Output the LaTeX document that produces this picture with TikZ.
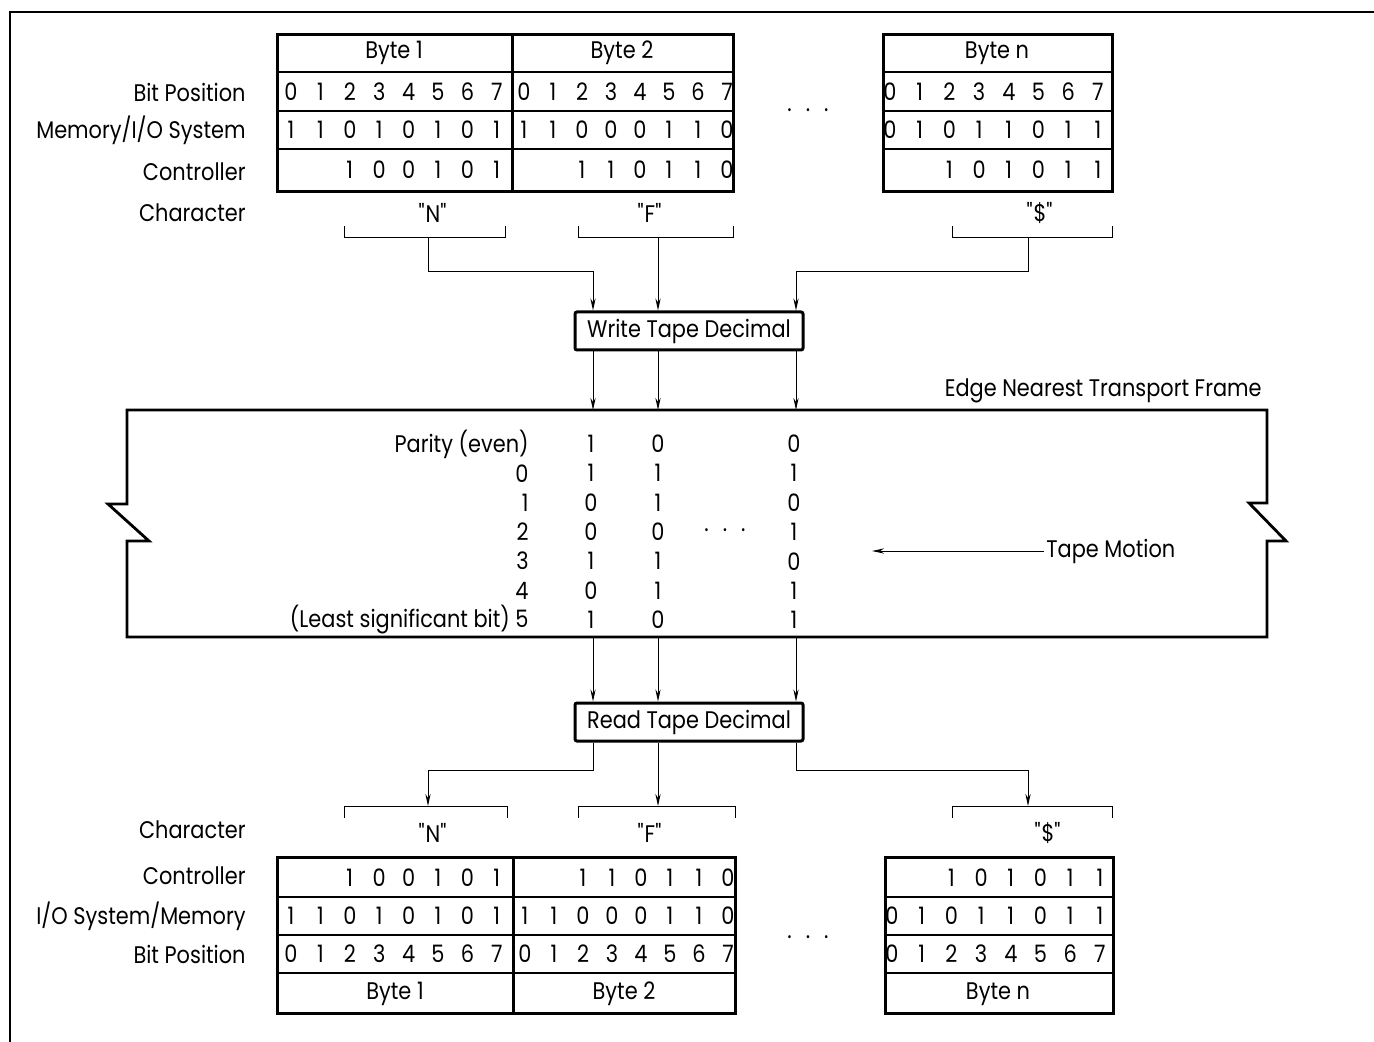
\documentclass[tikz,border=0pt]{standalone}
\usepackage{fontspec}
\setmainfont[FakeStretch=0.87]{Poppins}
\usetikzlibrary{arrows.meta}

\tikzset{
  conn/.style={line width=0.5pt},
  rowline/.style={line width=0.6pt},
  tabline/.style={line width=1.5pt},
  tapeline/.style={line width=1.4pt, line join=miter},
  procbox/.style={draw, line width=1.5pt, rounded corners=1pt, minimum width=114pt, minimum height=19pt, inner sep=0pt},
}
\newcommand{\chr}[1]{\textquotedbl#1\textquotedbl}

\begin{document}
\begin{tikzpicture}[x=0.5pt, y=-0.5pt, >={Stealth[length=6pt,width=2.6pt]},
  every node/.style={font=\fontsize{12}{14}\selectfont, inner sep=1pt}]
\useasboundingbox (0,0) rectangle (1374,1042);

% frame
\draw[line width=1pt] (10,1042) -- (10,12) -- (1374,12);

% columns used by the tape
\coordinate (c1) at (593,0);
\coordinate (c2) at (658,0);
\coordinate (c3) at (796,0);

% ---------- upper bytes ----------
\draw[rowline] (277,72) -- (733,72) (277,111) -- (733,111) (277,149) -- (733,149);
\draw[rowline] (883,72) -- (1112,72) (883,111) -- (1112,111) (883,149) -- (1112,149);
\draw[tabline] (277,35) rectangle (733,192) (512,35) -- (512,192);
\draw[tabline] (883,35) rectangle (1112,192);

\node[anchor=east] (ubitlbl) at (248,92) {Bit Position};
\node[anchor=east] (umemlbl) at (248,130) {Memory/I/O System};
\node[anchor=east] (uctllbl) at (248,172) {Controller};
\node[anchor=east] (uchrlbl) at (248,213) {Character};

\node (ub1) at (394,53) {Byte 1};
\node (ub2) at (622,53) {Byte 2};
\node (ubn) at (997,53) {Byte n};

\foreach \i in {0,...,7} {
  \node (ubit1-\i) at (291+29.4*\i,92) {\i};
  \node (ubit2-\i) at (524+29*\i,92) {\i};
  \node (ubitn-\i) at (890+29.7*\i,92) {\i};
}
\foreach \v [count=\i from 0] in {1,1,0,1,0,1,0,1}
  \node (umem1-\i) at (291+29.4*\i,130) {\v};
\foreach \v [count=\i from 0] in {1,1,0,0,0,1,1,0}
  \node (umem2-\i) at (524+29*\i,130) {\v};
\foreach \v [count=\i from 0] in {0,1,0,1,1,0,1,1}
  \node (umemn-\i) at (890+29.7*\i,130) {\v};
\foreach \v [count=\i from 2] in {1,0,0,1,0,1}
  \node (uctl1-\i) at (291+29.4*\i,170) {\v};
\foreach \v [count=\i from 2] in {1,1,0,1,1,0}
  \node (uctl2-\i) at (524+29*\i,170) {\v};
\foreach \v [count=\i from 2] in {1,0,1,0,1,1}
  \node (uctln-\i) at (890+29.7*\i,170) {\v};

\node (udots) at (808,110) {.\hspace{7pt}.\hspace{7pt}.};

\node (uchrN) at (433,213) {\chr{N}};
\node (uchrF) at (650,213) {\chr{F}};
\node (uchrS) at (1040,213) {\chr{\$}};

% brackets
\draw[conn] (344,226) -- (344,238) -- (505,238) -- (505,226);
\draw[conn] (578,226) -- (578,238) -- (733,238) -- (733,226);
\draw[conn] (952,226) -- (952,238) -- (1112,238) -- (1112,226);
\coordinate (uN) at (428,238);
\coordinate (uF) at (658,238);
\coordinate (uS) at (1028,238);

% write
\node[procbox] (write) at (689,331) {Write Tape Decimal};
\draw[conn,->] (uN) -- (428,272) -| (write.north -| c1);
\draw[conn,->] (uF) -- (write.north -| c2);
\draw[conn,->] (uS) -- (1028,272) -| (write.north -| c3);

% ---------- tape ----------
\coordinate (tapeT) at (0,410);
\coordinate (tapeB) at (0,637);
\draw[tapeline] (127,410) -- (1267,410) -- (1267,503) -- (1249,503) -- (1286,541)
  -- (1267,541) -- (1267,637) -- (127,637) -- (127,541) -- (149,541) -- (108,504)
  -- (127,504) -- cycle;
\node[anchor=east] (edge) at (1264,391) {Edge Nearest Transport Frame};

\foreach \c in {c1,c2,c3}
  \draw[conn,->] (write.south -| \c) -- (tapeT -| \c);

\foreach \t [count=\r from 0] in {{Parity (even)},0,1,2,3,4,{(Least significant bit) 5}}
  \node[anchor=east] (trow-\r) at (531,444+29.3*\r) {\t};
\foreach \v [count=\r from 0] in {1,1,0,0,1,0,1}
  \node (tN-\r) at (591,444+29.3*\r) {\v};
\foreach \v [count=\r from 0] in {0,1,1,0,1,1,0}
  \node (tF-\r) at (658,444+29.3*\r) {\v};
\foreach \v [count=\r from 0] in {0,1,0,1,0,1,1}
  \node (tS-\r) at (794,444+29.3*\r) {\v};
\node (tdots) at (725,530) {.\hspace{7pt}.\hspace{7pt}.};

\coordinate (motEnd) at (872,551);
\node[anchor=west] (motion) at (1044,551) {Tape Motion};
\draw[conn,->] (motion.west) -- (motEnd);

% read
\node[procbox] (read) at (689,722) {Read Tape Decimal};
\foreach \c in {c1,c2,c3}
  \draw[conn,->] (tapeB -| \c) -- (read.north -| \c);

\coordinate (lN) at (428,806);
\coordinate (lF) at (658,806);
\coordinate (lS) at (1028,806);
\draw[conn,->] (read.south -| c1) -- (593,770) -| (lN);
\draw[conn,->] (read.south -| c2) -- (lF);
\draw[conn,->] (read.south -| c3) -- (796,770) -| (lS);

\draw[conn] (344,818) -- (344,806) -- (507,806) -- (507,818);
\draw[conn] (578,818) -- (578,806) -- (735,806) -- (735,818);
\draw[conn] (952,818) -- (952,806) -- (1112,806) -- (1112,818);

% ---------- lower bytes ----------
\node[anchor=east] (lchrlbl) at (248,830) {Character};
\node[anchor=east] (lctllbl) at (248,876) {Controller};
\node[anchor=east] (lmemlbl) at (248,916) {I/O System/Memory};
\node[anchor=east] (lbitlbl) at (248,954) {Bit Position};

\node (lchrN) at (433,833) {\chr{N}};
\node (lchrF) at (650,833) {\chr{F}};
\node (lchrS) at (1048,833) {\chr{\$}};

\draw[rowline] (277,897) -- (735,897) (277,935) -- (735,935) (277,973) -- (735,973);
\draw[rowline] (885,897) -- (1113,897) (885,935) -- (1113,935) (885,973) -- (1113,973);
\draw[tabline] (277,857) rectangle (735,1013) (513,857) -- (513,1013);
\draw[tabline] (885,857) rectangle (1113,1013);

\foreach \v [count=\i from 2] in {1,0,0,1,0,1}
  \node (lctl1-\i) at (291+29.4*\i,878) {\v};
\foreach \v [count=\i from 2] in {1,1,0,1,1,0}
  \node (lctl2-\i) at (525+29*\i,878) {\v};
\foreach \v [count=\i from 2] in {1,0,1,0,1,1}
  \node (lctln-\i) at (892+29.7*\i,878) {\v};
\foreach \v [count=\i from 0] in {1,1,0,1,0,1,0,1}
  \node (lmem1-\i) at (291+29.4*\i,916) {\v};
\foreach \v [count=\i from 0] in {1,1,0,0,0,1,1,0}
  \node (lmem2-\i) at (525+29*\i,916) {\v};
\foreach \v [count=\i from 0] in {0,1,0,1,1,0,1,1}
  \node (lmemn-\i) at (892+29.7*\i,916) {\v};
\foreach \i in {0,...,7} {
  \node (lbit1-\i) at (291+29.4*\i,954) {\i};
  \node (lbit2-\i) at (525+29*\i,954) {\i};
  \node (lbitn-\i) at (892+29.7*\i,954) {\i};
}

\node (lb1) at (395,994) {Byte 1};
\node (lb2) at (624,994) {Byte 2};
\node (lbn) at (998,994) {Byte n};

\node (ldots) at (808,937) {.\hspace{7pt}.\hspace{7pt}.};
\end{tikzpicture}
\end{document}
